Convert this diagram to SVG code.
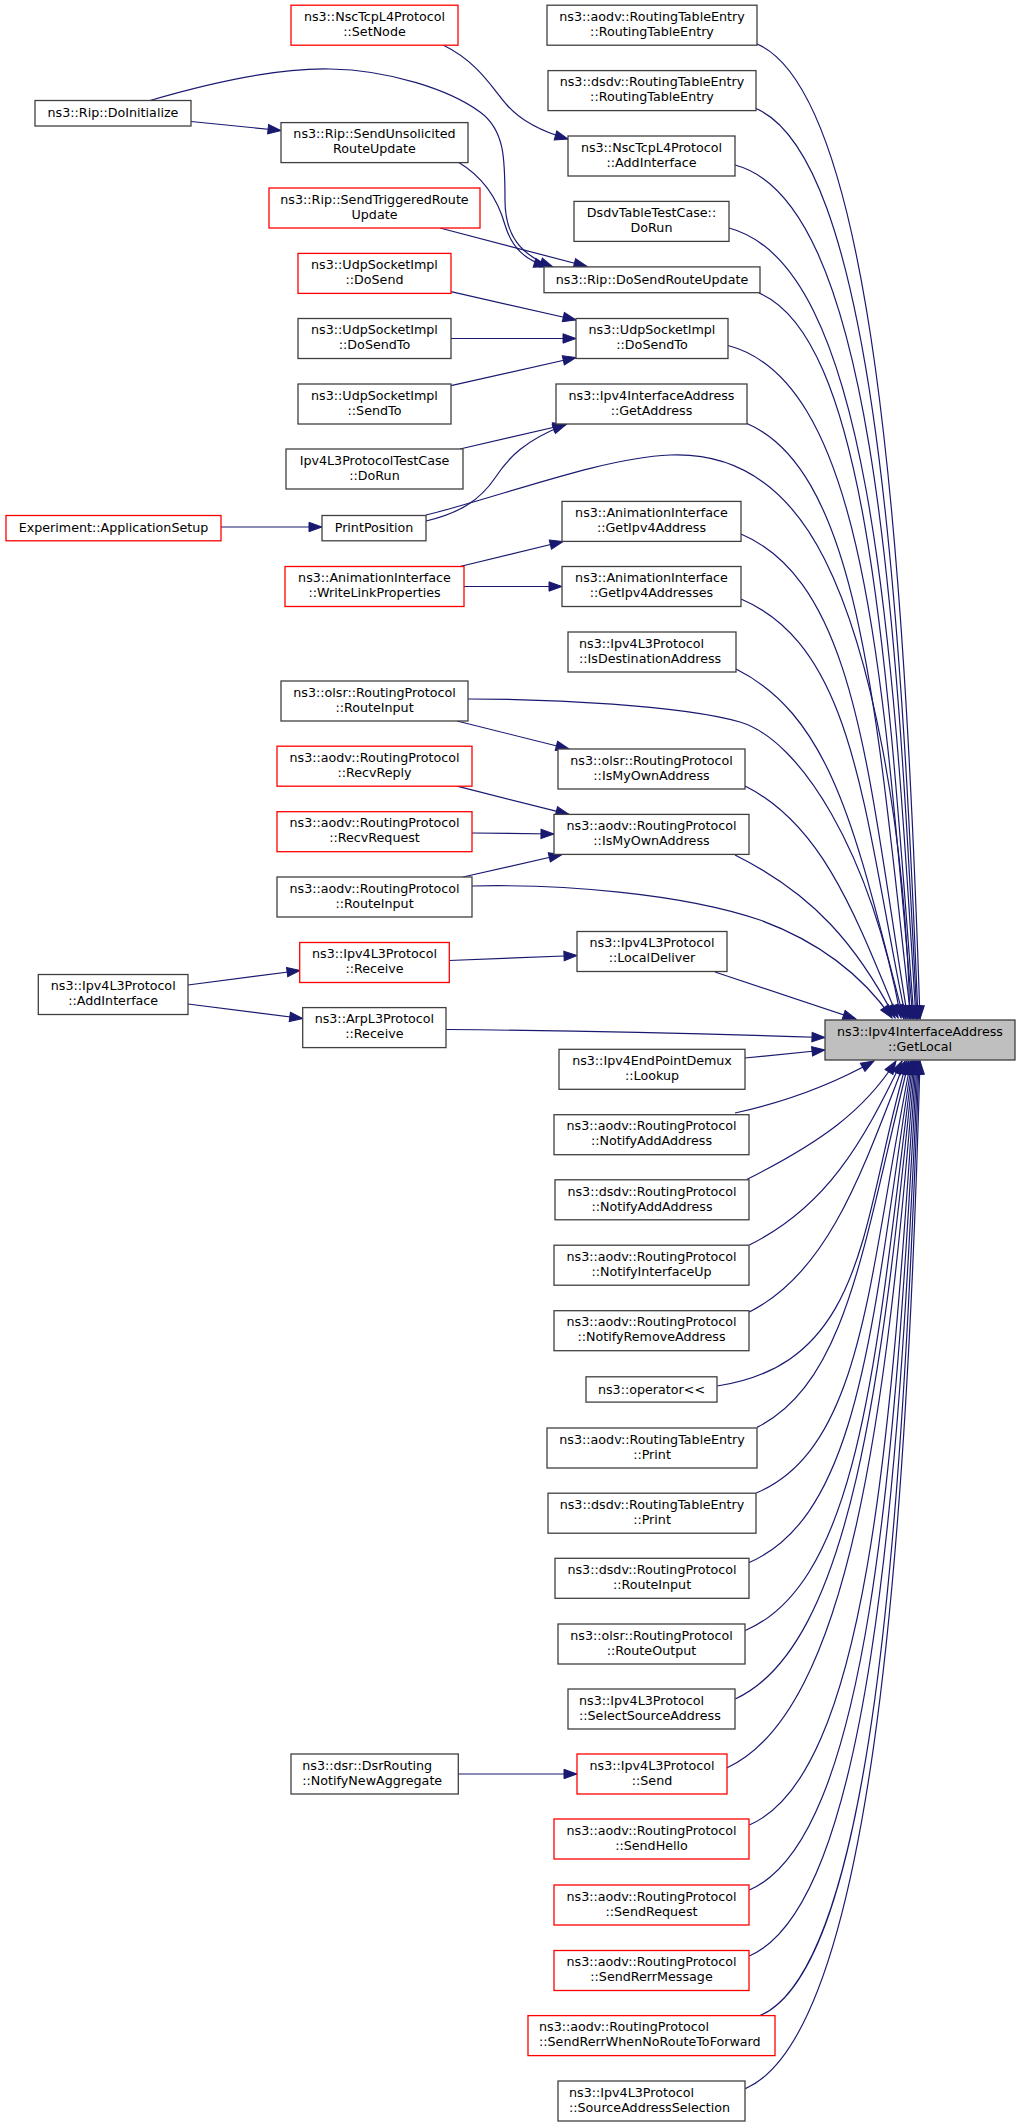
<svg xmlns="http://www.w3.org/2000/svg" width="1021" height="2127" viewBox="0 0 1021 2127">
<style>
.node rect{fill:#ffffff;stroke:#404040;stroke-width:1.3}
.node.red rect{stroke:#ff0000}
.node.focus rect{fill:#bfbfbf;stroke:#404040}
.node text{font-family:"DejaVu Sans","Liberation Sans",sans-serif;font-size:12.7px;fill:#000000;text-anchor:middle}
.node text.l{text-anchor:start}
#edges path{fill:none;stroke:#191970;stroke-width:1.2;marker-end:url(#arr)}
</style>
<defs>
<marker id="arr" markerUnits="userSpaceOnUse" markerWidth="16" markerHeight="12" refX="13" refY="5" orient="auto" overflow="visible">
<path d="M0,0.3 L13,5 L0,9.7 Z" fill="#191970" stroke="#191970" stroke-width="1"/>
</marker>
</defs>
<rect x="0" y="0" width="1021" height="2127" fill="#ffffff"/>
<g id="edges">
<path d="M757,44 C871,93 904,532 920,1019"/>
<path d="M756,108.5 C869,157 900,564 918,1019"/>
<path d="M735,165 C871,201 896,592 917,1019"/>
<path d="M729,228 C869,265 892,624 916,1019"/>
<path d="M759,293 C867,339 887,657 914,1019"/>
<path d="M728,345.5 C867,382 883,684 913,1019"/>
<path d="M747,423.5 C862,473 877,723 911,1019"/>
<path d="M426,515 C500,497 600,458 670,455 C740,452 790,490 825,560 C870,650 905,820 910,1019"/>
<path d="M741,534 C858,584 868,780 908,1019"/>
<path d="M741,599 C856,648 863,813 906,1019"/>
<path d="M736,669 C837,719 859,850 904,1019"/>
<path d="M468,699 C550,699 680,705 740,722 C800,740 870,850 901,1018"/>
<path d="M745,786 C821,824 854,911 898,1018"/>
<path d="M735,855 C815,895 857,946 895,1018"/>
<path d="M472,886 C560,884 680,893 760,920 C820,942 862,975 892,1018"/>
<path d="M715,972 L856,1019"/>
<path d="M446,1029.5 C600,1031 750,1035 825,1037.5"/>
<path d="M745,1058 L825,1050"/>
<path d="M735,1113 C785,1102 835,1083 874,1061"/>
<path d="M746.7,1179.5 C821,1142 864,1111 896,1061"/>
<path d="M749.3,1245 C826,1207 862,1144 902,1061"/>
<path d="M749.3,1312 C827,1273 860,1178 905,1061"/>
<path d="M717.3,1386 C869,1363 861,1217 907,1061"/>
<path d="M757,1427.4 C848,1382 864,1239 909,1061"/>
<path d="M756.3,1493 C865,1447 868,1273 911,1061"/>
<path d="M748.7,1562.7 C863,1514 873,1309 912,1061"/>
<path d="M745.3,1630.5 C863,1580 877,1343 913,1061"/>
<path d="M735.3,1699 C851.5,1645 882,1378 914,1061"/>
<path d="M726.7,1768 C849,1711.5 887,1413 915,1061"/>
<path d="M749.3,1825 C866,1775 891,1442 916,1061"/>
<path d="M749.3,1890 C867,1840 895,1475 917,1061"/>
<path d="M749.3,1956 C867,1905 899,1508 918,1061"/>
<path d="M760,2015.6 C871,1968 902,1538 919,1061"/>
<path d="M745.3,2088.6 C868,2036 906,1575 920,1061"/>
<path d="M443,45 C478,62 492,88 507,105 C520,120 540,131 568,139"/>
<path d="M191,121.5 L281,130.5"/>
<path d="M150,100.5 C220,80 280,68 330,69 C390,70 450,90 480,112 C505,130 505,160 505,200 C505,235 520,255 553,267"/>
<path d="M458,162 C485,178 498,200 505,225 C512,248 525,260 547,266.5"/>
<path d="M440,228 L587,266.5"/>
<path d="M451,291.7 L576,320"/>
<path d="M451,338.5 L576,338.5"/>
<path d="M451,385.7 L576,357.5"/>
<path d="M460,449 L566,424.5"/>
<path d="M426,521 C460,513 480,500 495,478 C508,458 525,440 566,424.5"/>
<path d="M221,527 L322,527"/>
<path d="M460,566.5 L563,541.5"/>
<path d="M464,586.5 L562,586.5"/>
<path d="M457,721 L569,749"/>
<path d="M457,786.2 L569,814.4"/>
<path d="M472,833 L554,834"/>
<path d="M463,877 L562,854.5"/>
<path d="M188,985 L300,970.5"/>
<path d="M188,1004 L302.7,1018.5"/>
<path d="M449,960.5 L577,955.5"/>
<path d="M458,1774 L577,1774"/>
</g>
<g id="n_doinit" class="node"><rect x="35" y="100.5" width="156" height="25.5"/><text x="113" y="117.3">ns3::Rip::DoInitialize</text></g>
<g id="n_expsetup" class="node red"><rect x="6" y="515.5" width="215" height="25.3"/><text x="113.5" y="531.8">Experiment::ApplicationSetup</text></g>
<g id="n_l3addif" class="node"><rect x="38.3" y="974.5" width="149.7" height="40"/><text x="113.2" y="990.2">ns3::Ipv4L3Protocol</text><text x="113.2" y="1005.2">::AddInterface</text></g>
<g id="n_setnode" class="node red"><rect x="291" y="5.2" width="167" height="40"/><text x="374.5" y="20.9">ns3::NscTcpL4Protocol</text><text x="374.5" y="35.9">::SetNode</text></g>
<g id="n_sendunsol" class="node"><rect x="281" y="122.6" width="187" height="40"/><text x="374.5" y="138.3">ns3::Rip::SendUnsolicited</text><text x="374.5" y="153.3">RouteUpdate</text></g>
<g id="n_sendtrig" class="node red"><rect x="269" y="188" width="211" height="40"/><text x="374.5" y="203.7">ns3::Rip::SendTriggeredRoute</text><text x="374.5" y="218.7">Update</text></g>
<g id="n_udpdosend" class="node red"><rect x="298" y="253.4" width="153" height="40"/><text x="374.5" y="269.1">ns3::UdpSocketImpl</text><text x="374.5" y="284.1">::DoSend</text></g>
<g id="n_udpdosendto1" class="node"><rect x="298" y="318.5" width="153" height="40"/><text x="374.5" y="334.2">ns3::UdpSocketImpl</text><text x="374.5" y="349.2">::DoSendTo</text></g>
<g id="n_udpsendto" class="node"><rect x="298" y="384" width="153" height="40"/><text x="374.5" y="399.7">ns3::UdpSocketImpl</text><text x="374.5" y="414.7">::SendTo</text></g>
<g id="n_l3testcase" class="node"><rect x="286" y="449" width="177" height="40"/><text x="374.5" y="464.7">Ipv4L3ProtocolTestCase</text><text x="374.5" y="479.7">::DoRun</text></g>
<g id="n_printpos" class="node"><rect x="322" y="515.5" width="104" height="25.3"/><text x="374" y="531.8">PrintPosition</text></g>
<g id="n_writelink" class="node red"><rect x="285" y="566.5" width="179" height="40"/><text x="374.5" y="582.2">ns3::AnimationInterface</text><text x="374.5" y="597.2">::WriteLinkProperties</text></g>
<g id="n_olsrrin" class="node"><rect x="281" y="681" width="187" height="40"/><text x="374.5" y="696.7">ns3::olsr::RoutingProtocol</text><text x="374.5" y="711.7">::RouteInput</text></g>
<g id="n_recvreply" class="node red"><rect x="277" y="746.2" width="195" height="40"/><text x="374.5" y="761.9">ns3::aodv::RoutingProtocol</text><text x="374.5" y="776.9">::RecvReply</text></g>
<g id="n_recvreq" class="node red"><rect x="277" y="811.7" width="195" height="40"/><text x="374.5" y="827.4">ns3::aodv::RoutingProtocol</text><text x="374.5" y="842.4">::RecvRequest</text></g>
<g id="n_aodvrin" class="node"><rect x="277" y="877" width="195" height="40"/><text x="374.5" y="892.7">ns3::aodv::RoutingProtocol</text><text x="374.5" y="907.7">::RouteInput</text></g>
<g id="n_l3recv" class="node red"><rect x="299.7" y="942.5" width="149.6" height="40"/><text x="374.5" y="958.2">ns3::Ipv4L3Protocol</text><text x="374.5" y="973.2">::Receive</text></g>
<g id="n_arprecv" class="node"><rect x="302.7" y="1007.6" width="143.3" height="40"/><text x="374.4" y="1023.3">ns3::ArpL3Protocol</text><text x="374.4" y="1038.3">::Receive</text></g>
<g id="n_dsrnotify" class="node"><rect x="291" y="1754" width="167.3" height="40"/><text class="l" x="302.3" y="1769.7">ns3::dsr::DsrRouting</text><text class="l" x="302.3" y="1784.7">::NotifyNewAggregate</text></g>
<g id="n_aodvrte" class="node"><rect x="547" y="5.2" width="210" height="40"/><text x="652" y="20.9">ns3::aodv::RoutingTableEntry</text><text x="652" y="35.9">::RoutingTableEntry</text></g>
<g id="n_dsdvrte" class="node"><rect x="548" y="70.6" width="208" height="40"/><text x="652" y="86.3">ns3::dsdv::RoutingTableEntry</text><text x="652" y="101.3">::RoutingTableEntry</text></g>
<g id="n_nscaddif" class="node"><rect x="568" y="136" width="167" height="40"/><text x="651.5" y="151.7">ns3::NscTcpL4Protocol</text><text x="651.5" y="166.7">::AddInterface</text></g>
<g id="n_dsdvtest" class="node"><rect x="574" y="201.4" width="155" height="40"/><text x="651.5" y="217.1">DsdvTableTestCase::</text><text x="651.5" y="232.1">DoRun</text></g>
<g id="n_dosendru" class="node"><rect x="544" y="266.9" width="216" height="25.8"/><text x="652" y="283.5">ns3::Rip::DoSendRouteUpdate</text></g>
<g id="n_udpdosendto2" class="node"><rect x="576" y="318.5" width="152" height="40"/><text x="652" y="334.2">ns3::UdpSocketImpl</text><text x="652" y="349.2">::DoSendTo</text></g>
<g id="n_getaddr" class="node"><rect x="556" y="384" width="191" height="40"/><text x="651.5" y="399.7">ns3::Ipv4InterfaceAddress</text><text x="651.5" y="414.7">::GetAddress</text></g>
<g id="n_getv4addr" class="node"><rect x="562" y="501.4" width="179" height="40"/><text x="651.5" y="517.1">ns3::AnimationInterface</text><text x="651.5" y="532.1">::GetIpv4Address</text></g>
<g id="n_getv4addrs" class="node"><rect x="562" y="566.5" width="179" height="40"/><text x="651.5" y="582.2">ns3::AnimationInterface</text><text x="651.5" y="597.2">::GetIpv4Addresses</text></g>
<g id="n_isdest" class="node"><rect x="568" y="632" width="168" height="40"/><text class="l" x="579" y="647.7">ns3::Ipv4L3Protocol</text><text class="l" x="579" y="662.7">::IsDestinationAddress</text></g>
<g id="n_olsrmy" class="node"><rect x="558" y="749" width="187" height="40"/><text x="651.5" y="764.7">ns3::olsr::RoutingProtocol</text><text x="651.5" y="779.7">::IsMyOwnAddress</text></g>
<g id="n_aodvmy" class="node"><rect x="554" y="814.4" width="195" height="40"/><text x="651.5" y="830.1">ns3::aodv::RoutingProtocol</text><text x="651.5" y="845.1">::IsMyOwnAddress</text></g>
<g id="n_localdeliver" class="node"><rect x="577" y="931.5" width="150" height="40"/><text x="652" y="947.2">ns3::Ipv4L3Protocol</text><text x="652" y="962.2">::LocalDeliver</text></g>
<g id="n_lookup" class="node"><rect x="559" y="1049.3" width="186" height="40"/><text x="652" y="1065">ns3::Ipv4EndPointDemux</text><text x="652" y="1080">::Lookup</text></g>
<g id="n_aodvnotadd" class="node"><rect x="554" y="1114.7" width="195" height="40"/><text x="651.5" y="1130.4">ns3::aodv::RoutingProtocol</text><text x="651.5" y="1145.4">::NotifyAddAddress</text></g>
<g id="n_dsdvnotadd" class="node"><rect x="555" y="1179.8" width="194" height="40"/><text x="652" y="1195.5">ns3::dsdv::RoutingProtocol</text><text x="652" y="1210.5">::NotifyAddAddress</text></g>
<g id="n_aodvifup" class="node"><rect x="554" y="1245.2" width="195" height="40"/><text x="651.5" y="1260.9">ns3::aodv::RoutingProtocol</text><text x="651.5" y="1275.9">::NotifyInterfaceUp</text></g>
<g id="n_aodvnotrem" class="node"><rect x="554" y="1310.7" width="195" height="40"/><text x="651.5" y="1326.4">ns3::aodv::RoutingProtocol</text><text x="651.5" y="1341.4">::NotifyRemoveAddress</text></g>
<g id="n_oplsh" class="node"><rect x="586" y="1376.8" width="131" height="25.3"/><text x="651.5" y="1393.5">ns3::operator&lt;&lt;</text></g>
<g id="n_aodvprint" class="node"><rect x="547" y="1428" width="210" height="40"/><text x="652" y="1443.7">ns3::aodv::RoutingTableEntry</text><text x="652" y="1458.7">::Print</text></g>
<g id="n_dsdvprint" class="node"><rect x="548" y="1493.2" width="208" height="40"/><text x="652" y="1508.9">ns3::dsdv::RoutingTableEntry</text><text x="652" y="1523.9">::Print</text></g>
<g id="n_dsdvrin" class="node"><rect x="555" y="1558.3" width="194" height="40"/><text x="652" y="1574">ns3::dsdv::RoutingProtocol</text><text x="652" y="1589">::RouteInput</text></g>
<g id="n_olsrrout" class="node"><rect x="558" y="1624" width="187" height="40"/><text x="651.5" y="1639.7">ns3::olsr::RoutingProtocol</text><text x="651.5" y="1654.7">::RouteOutput</text></g>
<g id="n_selsrc" class="node"><rect x="568" y="1689" width="167" height="40"/><text class="l" x="579" y="1704.7">ns3::Ipv4L3Protocol</text><text class="l" x="579" y="1719.7">::SelectSourceAddress</text></g>
<g id="n_l3send" class="node red"><rect x="577" y="1754" width="150" height="40"/><text x="652" y="1769.7">ns3::Ipv4L3Protocol</text><text x="652" y="1784.7">::Send</text></g>
<g id="n_sendhello" class="node red"><rect x="554" y="1819" width="195" height="40"/><text x="651.5" y="1834.7">ns3::aodv::RoutingProtocol</text><text x="651.5" y="1849.7">::SendHello</text></g>
<g id="n_sendreq" class="node red"><rect x="554" y="1885" width="195" height="40"/><text x="651.5" y="1900.7">ns3::aodv::RoutingProtocol</text><text x="651.5" y="1915.7">::SendRequest</text></g>
<g id="n_sendrerr" class="node red"><rect x="554" y="1950.5" width="195" height="40"/><text x="651.5" y="1966.2">ns3::aodv::RoutingProtocol</text><text x="651.5" y="1981.2">::SendRerrMessage</text></g>
<g id="n_sendrerrnr" class="node red"><rect x="528" y="2015.6" width="247" height="40"/><text class="l" x="539" y="2031.3">ns3::aodv::RoutingProtocol</text><text class="l" x="539" y="2046.3">::SendRerrWhenNoRouteToForward</text></g>
<g id="n_srcaddrsel" class="node"><rect x="558" y="2081" width="187" height="40"/><text class="l" x="569" y="2096.7">ns3::Ipv4L3Protocol</text><text class="l" x="569" y="2111.7">::SourceAddressSelection</text></g>
<g id="n_getlocal" class="node focus"><rect x="825" y="1020" width="190" height="40"/><text x="920" y="1035.7">ns3::Ipv4InterfaceAddress</text><text x="920" y="1050.7">::GetLocal</text></g>
</svg>
